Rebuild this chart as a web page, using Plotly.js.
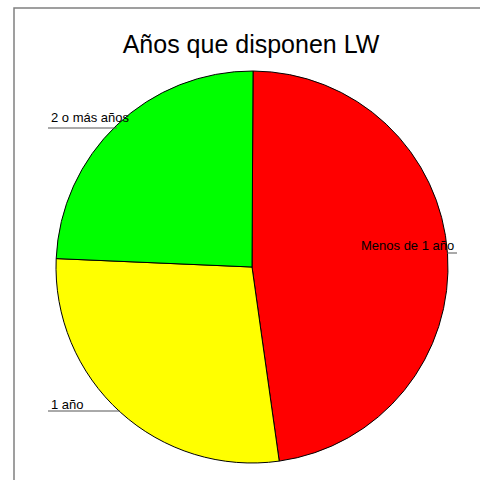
<!DOCTYPE html>
<html>
<head>
<meta charset="utf-8">
<script src="https://cdn.plot.ly/plotly-3.0.1.min.js"></script>
<style>html,body{margin:0;padding:0;background:#fff;}#chart{width:480px;height:480px;}</style>
</head>
<body>
<div id="chart"></div>
<script>
var labels = ["Menos de 1 año", "1 año", "2 o más años"];
var values = [47.7, 27.9, 24.4];
var colors = ["#FF0000", "#FFFF00", "#00FF00"];
var titleText = "Años que disponen LW";

var W = 480, H = 480;
function px(x){return x/W;}
function py(y){return 1 - y/H;}

var trace = {
  type: "pie",
  labels: labels,
  values: values,
  sort: false,
  direction: "clockwise",
  rotation: 0.3,
  marker: {colors: colors, line: {color: "#000000", width: 1}},
  textinfo: "none",
  hoverinfo: "label+percent",
  showlegend: false,
  domain: {x: [px(56), px(448)], y: [py(463), py(71)]}
};

var labelPos = [
  {x: 359, y: 246},
  {x: 49, y: 404},
  {x: 49, y: 117}
];
var linePos = [
  {x0: 447, x1: 457, y: 253},
  {x0: 48, x1: 120, y: 411},
  {x0: 48, x1: 117, y: 128}
];

var annotations = labels.map(function(l, i){
  return {
    text: l, xref: "paper", yref: "paper",
    x: px(labelPos[i].x), y: py(labelPos[i].y),
    xanchor: "left", yanchor: "middle", showarrow: false,
    font: {family: "Liberation Sans, Arial, sans-serif", size: 13, color: "#000"}
  };
});

var shapes = linePos.map(function(p){
  return {type: "line", xref: "paper", yref: "paper",
    x0: px(p.x0), x1: px(p.x1), y0: py(p.y), y1: py(p.y),
    line: {color: "#555555", width: 1}};
});
shapes.push({type: "rect", xref: "paper", yref: "paper",
  x0: px(14), x1: px(500), y0: py(8), y1: py(500),
  line: {color: "#808080", width: 1.5}});

var layout = {
  width: W, height: H,
  margin: {l: 0, r: 0, t: 0, b: 0},
  paper_bgcolor: "#ffffff",
  title: {text: titleText, x: px(251), xanchor: "center", y: py(44), yanchor: "middle",
    font: {family: "Liberation Sans, Arial, sans-serif", size: 25, color: "#000"}},
  annotations: annotations,
  shapes: shapes
};

Plotly.newPlot("chart", [trace], layout, {displayModeBar: false, staticPlot: true});
</script>
</body>
</html>
